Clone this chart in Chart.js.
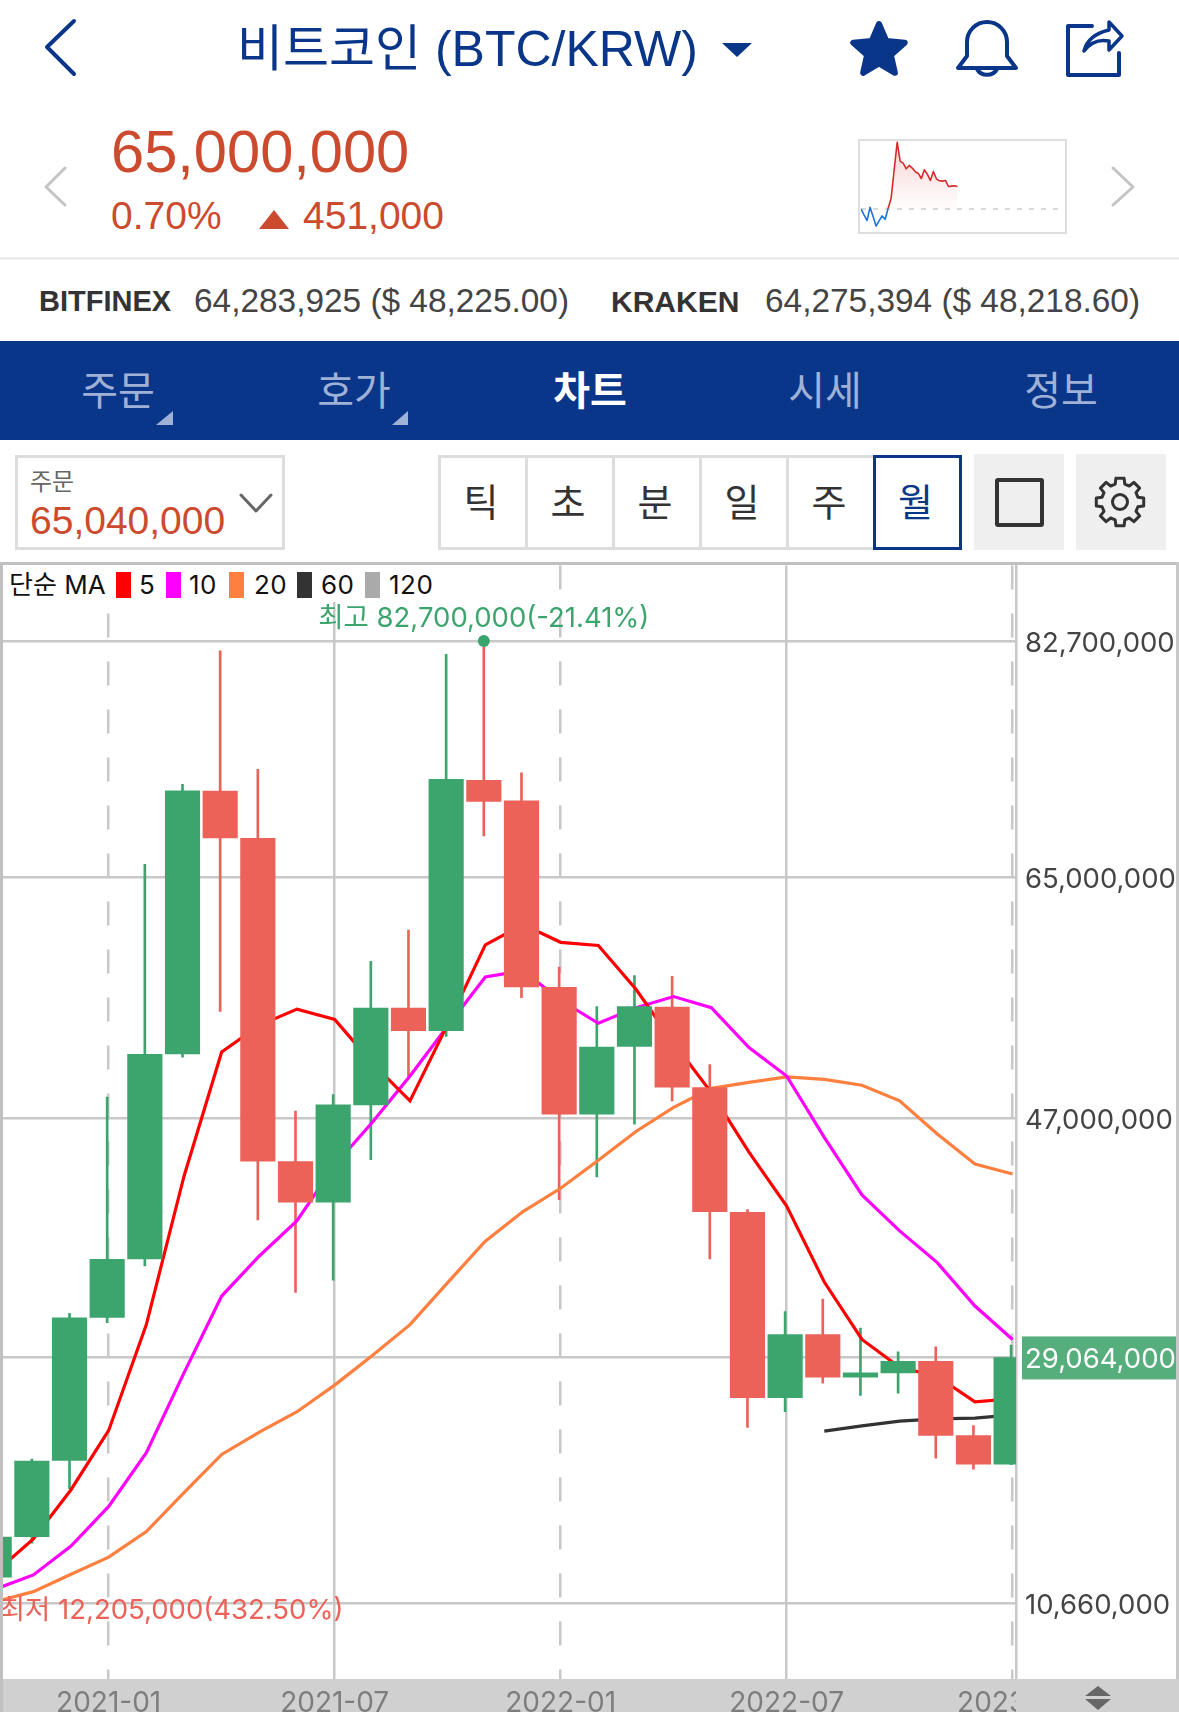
<!DOCTYPE html>
<html lang="ko">
<head>
<meta charset="utf-8">
<title>비트코인 (BTC/KRW)</title>
<style>
  html, body { margin: 0; padding: 0; background: #fff; }
  body { position: relative; width: 1179px; height: 1712px; overflow: hidden;
         font-family: "Liberation Sans", "Noto Sans CJK KR", sans-serif; }
  .t { position: absolute; white-space: nowrap; line-height: 1; }
  .box { position: absolute; box-sizing: border-box; }
  .tab { position: absolute; top: 369px; width: 236px; text-align: center; font-size: 40px; line-height: 44px; color: #9fb1d6; }
  .cell { position: absolute; top: 0; height: 95px; width: 90px; padding-right: 4px; text-align: center; font-size: 38px; line-height: 91px; color: #333;
          box-sizing: border-box; border: 3px solid #ddd; }
  #chart, #spark { position: absolute; }
  #chart { left: 0; top: 560px; z-index: 1; }
  #spark { left: 858px; top: 139px; }
  #legend { position: absolute; left: 3px; top: 565px; width: 432px; height: 37px; background: #fff; z-index: 2;
            font-family: Inter, "Noto Sans CJK KR", sans-serif; }
  #legend span { position: absolute; top: 7px; font-size: 26px; line-height: 1; color: #111; white-space: nowrap; letter-spacing: .5px; }
  #legend i { position: absolute; top: 7px; width: 15px; height: 26px; }
</style>
</head>
<body>

<svg class="box" width="1179" height="560" style="left:0;top:0" fill="none" stroke-linecap="round" stroke-linejoin="round">
  <polyline points="74,21 47,47 74,74" stroke="#0a3689" stroke-width="4"/>
  <polygon points="722,43 752,43 737,57" fill="#0a3689"/>
  <polygon points="879,24 886.3,40.9 904.7,42.7 890.9,54.9 894.9,72.8 879,63.5 863.1,72.8 867.1,54.9 853.3,42.7 871.7,40.9" fill="#0a3689" stroke="#0a3689" stroke-width="6"/>
  <path d="M958 68 L967 56 V42 A20 20 0 0 1 1007 42 V56 L1016 68 Z" stroke="#0a3689" stroke-width="4"/>
  <path d="M977 69 A11 10 0 0 0 997 69" stroke="#0a3689" stroke-width="4"/>
  <path d="M1092 26 H1068 V75 H1119 V53" stroke="#0a3689" stroke-width="4"/>
  <path d="M1084 51 C1087 39 1096 33 1109 30 L1109 22 L1122 36 L1109 50 L1109 41 C1099 39 1090 43 1084 51 Z" stroke="#0a3689" stroke-width="3.5"/>
  <polyline points="65,168 46,187 65,205" stroke="#c4c4c4" stroke-width="3"/>
  <polyline points="1113,168 1133,187 1113,205" stroke="#c4c4c4" stroke-width="3"/>
  <polygon points="259,229 289,229 274,210" fill="#cc4a2e"/>
  <line x1="0" y1="258.5" x2="1179" y2="258.5" stroke="#e6e6e6" stroke-width="2"/>
</svg>

<div class="t" style="left:237px;top:24px;font-size:50px;color:#0a3689">비트코인 (BTC/KRW)</div>
<div class="t" style="left:111px;top:122px;font-size:59.6px;color:#cc4a2e">65,000,000</div>
<div class="t" style="left:111px;top:196px;font-size:39px;color:#cc4a2e">0.70%</div>
<div class="t" style="left:303px;top:196px;font-size:39px;color:#cc4a2e">451,000</div>

<div class="box" style="left:858px;top:139px;width:209px;height:95px;border:2px solid #dedede"></div>
<canvas id="spark" width="209" height="95"></canvas>

<div class="t" style="left:39px;top:287px;font-size:29px;font-weight:700;color:#333">BITFINEX</div>
<div class="t" style="left:194px;top:284px;font-size:33.4px;color:#444">64,283,925 ($ 48,225.00)</div>
<div class="t" style="left:611px;top:287px;font-size:30px;font-weight:700;color:#333">KRAKEN</div>
<div class="t" style="left:765px;top:284px;font-size:33.4px;color:#444">64,275,394 ($ 48,218.60)</div>

<!-- tab bar -->
<div class="box" style="left:0;top:341px;width:1179px;height:99px;background:#0a3689"></div>
<div class="tab" style="left:0">주문</div>
<div class="tab" style="left:236px">호가</div>
<div class="tab" style="left:472px;color:#fff;font-weight:700">차트</div>
<div class="tab" style="left:707px">시세</div>
<div class="tab" style="left:943px">정보</div>
<svg class="box" width="1179" height="440" style="left:0;top:0">
  <polygon points="173,411 173,425 156,425" fill="#9fb1d6"/>
  <polygon points="408,411 408,425 392,425" fill="#9fb1d6"/>
</svg>

<!-- order price selector -->
<div class="box" style="left:15px;top:455px;width:270px;height:95px;border:3px solid #ddd"></div>
<div class="t" style="left:30px;top:470px;font-size:24px;color:#666">주문</div>
<div class="t" style="left:30px;top:501px;font-size:39px;color:#cc4a2e">65,040,000</div>

<!-- period buttons -->
<div class="box" style="left:438px;top:455px;width:524px;height:95px">
  <div class="cell" style="left:0">틱</div>
  <div class="cell" style="left:87px">초</div>
  <div class="cell" style="left:174px">분</div>
  <div class="cell" style="left:261px">일</div>
  <div class="cell" style="left:348px">주</div>
  <div class="cell" style="left:435px;width:89px;border-color:#0a3689;color:#0a3689">월</div>
</div>
<div class="box" style="left:974px;top:454px;width:90px;height:96px;background:#efefef"></div>
<div class="box" style="left:1076px;top:454px;width:90px;height:96px;background:#efefef"></div>
<svg class="box" width="1179" height="560" style="left:0;top:0" fill="none" stroke-linecap="round" stroke-linejoin="round">
  <polyline points="241,495 256,511 271,495" stroke="#666" stroke-width="3"/>
  <rect x="997" y="480" width="45" height="45" rx="1" stroke="#333" stroke-width="4"/>
  <polygon id="gear" stroke="#333" stroke-width="3"/>
  <circle cx="1120" cy="502" r="7.5" stroke="#333" stroke-width="3"/>
</svg>

<!-- date bar behind the chart -->
<div class="box" style="left:0;top:1679px;width:1179px;height:33px;background:#d0d0d0"></div>

<!-- main chart -->
<canvas id="chart" width="1179" height="1152"></canvas>

<div id="legend">
  <span style="left:6px;letter-spacing:0">단순 MA</span>
  <i style="left:113px;background:#ff0000"></i><span style="left:136px">5</span>
  <i style="left:163px;background:#ff00ff"></i><span style="left:186px">10</span>
  <i style="left:226px;background:#ff7f3f"></i><span style="left:251px">20</span>
  <i style="left:294px;background:#333333"></i><span style="left:318px">60</span>
  <i style="left:362px;background:#aaaaaa"></i><span style="left:386px">120</span>
</div>

<!-- bar right of the plot, hides the clipped date label -->
<div class="box" style="left:1016px;top:1679px;width:163px;height:33px;background:#d0d0d0;z-index:2"></div>
<svg class="box" width="40" height="33" style="left:1080px;top:1679px;z-index:3">
  <polygon points="18,7 31,17 5,17" fill="#666"/>
  <polygon points="5,20 31,20 18,31" fill="#666"/>
</svg>
<!-- chart frame -->
<div class="box" style="left:0;top:562px;width:1179px;height:3px;background:#c0c0c0;z-index:3"></div>
<div class="box" style="left:0;top:562px;width:3px;height:1150px;background:#c0c0c0;z-index:3"></div>
<div class="box" style="left:1176px;top:562px;width:3px;height:1117px;background:#c8c8c8;z-index:3"></div>

<script src="https://cdn.jsdelivr.net/npm/chart.js@4/dist/chart.umd.min.js"></script>
<script>
'use strict';

/* ── Data (KRW, millions) ── */
const MONTHS = ['2020-10','2020-11','2020-12','2021-01','2021-02','2021-03','2021-04','2021-05','2021-06','2021-07',
  '2021-08','2021-09','2021-10','2021-11','2021-12','2022-01','2022-02','2022-03','2022-04','2022-05','2022-06',
  '2022-07','2022-08','2022-09','2022-10','2022-11','2022-12','2023-01'];

const OPENS  = [12.61,15.64,21.36,32.05,36.43,51.79,71.46,67.92,43.73,40.68,47.97,55.22,53.53,72.27,70.74,56.77,47.28,52.34,55.3,49.27,39.93,26.05,30.77,27.58,27.91,28.77,23.22,21.08];
const CLOSES = [15.61,21.3,32.02,36.41,51.76,71.49,67.95,43.76,40.68,47.97,55.22,53.53,72.35,70.69,56.8,47.28,52.29,55.33,49.3,39.98,26.05,30.77,27.58,27.91,28.77,23.22,21.08,29.06];
const HIGHS  = [15.9,21.45,32.36,48.55,65.98,71.96,81.97,73.1,47.5,48.74,58.71,61.05,81.7,82.7,72.82,58.29,55.33,57.65,57.6,50.99,40.13,32.49,33.43,31.27,29.49,29.86,23.97,29.99];
const LOWS   = [12.205,15.15,19.24,31.66,35.91,51.54,54.97,39.35,33.93,34.85,43.87,50.0,53.09,68.11,55.99,40.88,42.57,46.53,48.27,36.43,23.83,25.0,27.14,26.22,26.39,21.53,20.7,21.03];

const MA5  = [13.0,15.47,19.16,23.6,31.52,42.63,51.93,53.92,55.14,54.36,51.1,48.27,54.0,59.95,61.47,60.14,59.9,56.63,52.62,48.89,44.43,40.4,34.71,30.41,28.33,27.64,25.74,25.97];
const MA10 = [11.73,12.78,14.94,17.91,21.94,27.91,33.66,36.66,39.3,43.46,46.67,50.13,53.87,57.55,58.01,55.8,54.08,55.25,56.08,55.25,52.26,50.13,45.54,41.23,38.54,36.16,32.91,30.41];
const MA20 = [10.78,11.53,12.83,14.11,16.03,18.95,21.8,23.47,25.0,26.99,29.21,31.52,34.66,37.76,39.98,41.73,43.82,45.98,47.78,49.21,49.66,50.07,49.88,49.44,48.27,45.79,43.55,42.79];
const MA60 = [null,null,null,null,null,null,null,null,null,null,null,null,null,null,null,null,null,null,null,null,null,null,23.55,23.94,24.3,24.47,24.52,24.77];

const PRICE_TICKS = [10.66,29.064,47,65,82.7];
const LAST_PRICE  = 29.064;
const DATE_TICKS  = ['2021-01','2021-07','2022-01','2022-07','2023-01'];
const PEAK_LABEL   = '최고 82,700,000(-21.41%)';
const BOTTOM_LABEL = '최저 12,205,000(432.50%)';

const SPARK_DOWN = [0,-18,-35,5,-23,-51,-36,-21,-31,2];
const SPARK_UP   = [2,32,117,199,142,137,120,130,122,111,106,91,117,104,85,112,90,84,83,85,67,68,69,67];
const SPARK_SLOTS = 67;

/* ── Colours ── */
const GREEN = '#3ca56e';
const RED   = '#ec6258';
const GRID  = '#c8c8c8';

/* candles sit a little left of the month line in the app */
const CANDLE_SHIFT = 0.04;

const fmt = v => Math.round(v * 1e6).toLocaleString('en-US');
const candleColors = OPENS.map((o, i) => CLOSES[i] >= o ? GREEN : RED);
const series = arr => arr.map((v, i) => ({ x: i, y: v }));

function maLine(label, values, color, width) {
  return {
    type: 'line', label, data: series(values), borderColor: color, borderWidth: width,
    pointRadius: 0, tension: 0, order: 2, spanGaps: false,
  };
}

/* ── Peak / bottom labels ── */
const extremesPlugin = {
  id: 'extremes',
  afterDatasetsDraw(chart) {
    const { x, y } = chart.scales;
    const ctx = chart.ctx;
    const peak = HIGHS.indexOf(Math.max(...HIGHS));
    const low = LOWS.indexOf(Math.min(...LOWS));
    ctx.save();
    ctx.font = '27.5px Inter, "Noto Sans CJK KR", sans-serif';
    ctx.textBaseline = 'middle';
    ctx.fillStyle = GREEN;
    ctx.textAlign = 'center';
    ctx.fillText(PEAK_LABEL, x.getPixelForValue(peak - CANDLE_SHIFT), y.getPixelForValue(HIGHS[peak]) - 22);
    ctx.fillStyle = RED;
    ctx.textAlign = 'left';
    ctx.fillText(BOTTOM_LABEL, x.getPixelForValue(low) + 4, y.getPixelForValue(LOWS[low]) + 28);
    ctx.restore();
  },
};

/* ── Main chart ── */
new Chart(document.getElementById('chart'), {
  data: {
    datasets: [
      {
        type: 'bar', label: 'wick', order: 3, grouped: false, barThickness: 2,
        data: MONTHS.map((m, i) => ({ x: i - CANDLE_SHIFT, y: [LOWS[i], HIGHS[i]] })),
        backgroundColor: candleColors,
      },
      {
        type: 'bar', label: 'body', order: 1, grouped: false, barThickness: 34.5,
        data: MONTHS.map((m, i) => ({ x: i - CANDLE_SHIFT, y: [OPENS[i], CLOSES[i]] })),
        backgroundColor: candleColors,
      },
      maLine('MA5', MA5, '#ff0000', 3.2),
      maLine('MA10', MA10, '#ff00ff', 3.2),
      maLine('MA20', MA20, '#ff7f3f', 3.2),
      maLine('MA60', MA60, '#333333', 3.2),
      {
        type: 'line', label: 'peak', order: 0, showLine: false,
        data: [{ x: HIGHS.indexOf(Math.max(...HIGHS)) - CANDLE_SHIFT, y: Math.max(...HIGHS) }],
        pointRadius: 6, pointBackgroundColor: GREEN, pointBorderWidth: 0, clip: false,
      },
    ],
  },
  options: {
    responsive: false,
    animation: false,
    devicePixelRatio: 1,
    layout: { autoPadding: false, padding: { left: 3, top: 5.5, right: 0, bottom: 0 } },
    plugins: { legend: { display: false }, tooltip: { enabled: false } },
    scales: {
      x: {
        type: 'linear', min: 0.194, max: 27.09, offset: false,
        afterBuildTicks: s => { s.ticks = DATE_TICKS.map(d => ({ value: MONTHS.indexOf(d) })); },
        afterFit: s => { s.height = 33; s.paddingLeft = 0; s.paddingRight = 0; },
        grid: { color: GRID, lineWidth: 2.5, drawTicks: false, offset: false },
        border: {
          display: false,
          dash: c => (c.index % 2 === 0 ? [24, 24] : []),
        },
        ticks: {
          autoSkip: false, maxRotation: 0, padding: 8, color: '#7d7d7d',
          font: { family: 'Inter, sans-serif', size: 28 },
          callback: v => MONTHS[v],
        },
      },
      y: {
        type: 'linear', position: 'right', min: 4.99, max: 88.35,
        afterBuildTicks: s => { s.ticks = PRICE_TICKS.map(v => ({ value: v })); },
        afterFit: s => { s.width = 163; s.paddingTop = 0; s.paddingBottom = 0; },
        grid: { color: GRID, lineWidth: 2.5, drawTicks: false },
        border: { color: GRID, width: 2.5 },
        ticks: {
          padding: 9, autoSkip: false, labelOffset: 2.5,
          font: { family: 'Inter, sans-serif', size: 27.5 },
          color: c => (c.tick.value === LAST_PRICE ? '#ffffff' : '#444444'),
          showLabelBackdrop: c => c.tick.value === LAST_PRICE,
          backdropColor: '#57ae7d',
          backdropPadding: { left: 3, right: 2, top: 7, bottom: 3 },
          callback: v => fmt(v),
        },
      },
    },
  },
  plugins: [extremesPlugin],
});

/* ── Sparkline ── */
new Chart(document.getElementById('spark'), {
  type: 'line',
  data: {
    datasets: [
      {
        label: 'prev', order: 3, data: [{ x: 0, y: 0 }, { x: SPARK_SLOTS - 1, y: 0 }],
        borderColor: '#cccccc', borderWidth: 1.5, borderDash: [5, 7], pointRadius: 0,
      },
      {
        label: 'up', order: 2,
        data: SPARK_UP.map((v, i) => ({ x: i + SPARK_DOWN.length - 1, y: v })),
        borderColor: '#d62b2b', borderWidth: 1.6, borderJoinStyle: 'round', pointRadius: 0, fill: 'origin',
        backgroundColor: c => {
          const g = c.chart.ctx.createLinearGradient(0, 0, 0, 65);
          g.addColorStop(0, 'rgba(236,120,120,0.35)');
          g.addColorStop(1, 'rgba(236,120,120,0.03)');
          return g;
        },
      },
      {
        label: 'down', order: 1,
        data: SPARK_DOWN.map((v, i) => ({ x: i, y: v })),
        borderColor: '#1c76d8', borderWidth: 1.6, borderJoinStyle: 'round', pointRadius: 0,
      },
    ],
  },
  options: {
    responsive: false,
    animation: false,
    devicePixelRatio: 1,
    layout: { autoPadding: false, padding: { left: 3, right: 7, top: 0, bottom: 0 } },
    plugins: { legend: { display: false }, tooltip: { enabled: false } },
    scales: {
      x: { type: 'linear', min: 0, max: SPARK_SLOTS - 1, display: false },
      y: { type: 'linear', min: -75, max: 209, display: false },
    },
  },
});

/* ── Gear icon outline ── */
const gearPts = [];
for (let i = 0; i < 8; i++) {
  const a = i * Math.PI / 4 - Math.PI / 2;
  [[-0.26, 18.5], [-0.17, 24], [0.17, 24], [0.26, 18.5]].forEach(([da, r]) => {
    gearPts.push(`${(1120 + r * Math.cos(a + da)).toFixed(1)},${(502 + r * Math.sin(a + da)).toFixed(1)}`);
  });
}
document.getElementById('gear').setAttribute('points', gearPts.join(' '));
</script>
</body>
</html>
